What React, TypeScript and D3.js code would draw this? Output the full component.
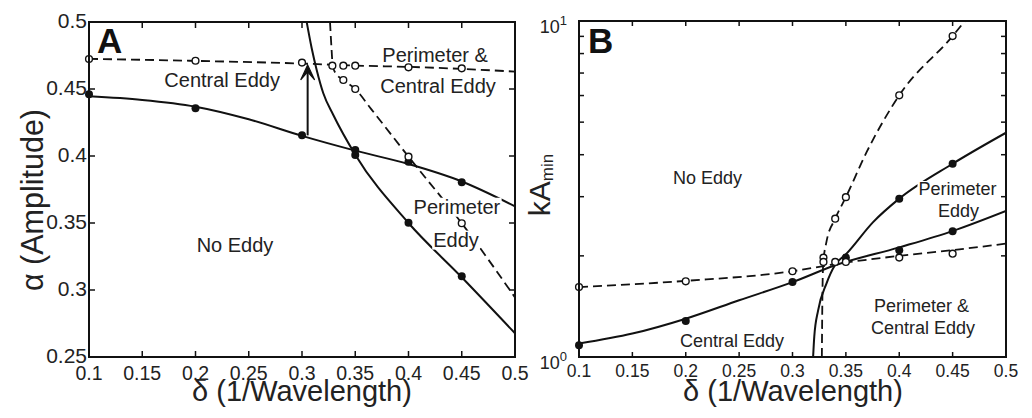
import { useRef, useEffect } from 'react';
import * as d3 from 'd3';

// shared x ticks (delta)
const deltaTicks = [0.1, 0.15, 0.2, 0.25, 0.3, 0.35, 0.4, 0.45, 0.5];
const deltaTickLabels = ['0.1', '0.15', '0.2', '0.25', '0.3', '0.35', '0.4', '0.45', '0.5'];

// panel A : alpha (amplitude)
const alphaTicks = [0.25, 0.3, 0.35, 0.4, 0.45, 0.5];
const alphaTickLabels = ['0.25', '0.3', '0.35', '0.4', '0.45', '0.5'];

const aCentralSolid: [number, number][] = [
    [0.1, 0.4445], [0.15, 0.4418], [0.2, 0.4368], [0.25, 0.4274], [0.3, 0.415],
    [0.35, 0.404], [0.4, 0.394], [0.45, 0.381], [0.5, 0.3625],
];
const aPerimeterSolid: [number, number][] = [
    [0.3044, 0.5], [0.3091, 0.4804], [0.3138, 0.4642], [0.32, 0.4468], [0.3294, 0.4306],
    [0.35, 0.401], [0.4, 0.35], [0.45, 0.3095], [0.5, 0.2677],
];
const aCentralDashed: [number, number][] = [
    [0.1, 0.4725], [0.2, 0.471], [0.3, 0.469], [0.35, 0.4675], [0.4, 0.4665], [0.45, 0.465], [0.5, 0.463],
];
const aPerimeterDashed: [number, number][] = [
    [0.3263, 0.5], [0.3279, 0.4778], [0.3288, 0.4674], [0.331, 0.4625], [0.3388, 0.4567],
    [0.35, 0.45], [0.365, 0.435], [0.4, 0.3995], [0.45, 0.3498], [0.5, 0.2945],
];
const aFilled: [number, number][] = [
    [0.1, 0.446], [0.2, 0.4356], [0.3, 0.4154], [0.35, 0.4045], [0.35, 0.4007],
    [0.4, 0.3958], [0.45, 0.3804], [0.4, 0.3502], [0.45, 0.3102],
];
const aOpen: [number, number][] = [
    [0.1, 0.4724], [0.2, 0.4711], [0.3, 0.4697], [0.3285, 0.4674], [0.3388, 0.4674],
    [0.35, 0.4674], [0.4, 0.4662], [0.45, 0.4654],
    [0.3388, 0.4567], [0.35, 0.45], [0.4, 0.3995], [0.45, 0.3498],
];
const aArrow: [number, number][] = [[0.3053, 0.4154], [0.3053, 0.468]];

// panel B : kA_min (log)
const kaMajor = [1, 10];
const kaMinor = [2, 3, 4, 5, 6, 7, 8, 9];
const kaExponents = ['0', '1'];

const bCentralSolid: [number, number][] = [
    [0.1, 1.096], [0.15, 1.174], [0.2, 1.3], [0.25, 1.475], [0.3, 1.67], [0.34, 1.875],
    [0.4, 2.12], [0.45, 2.37], [0.5, 2.72],
];
const bPerimeterSolid: [number, number][] = [
    [0.3193, 1.0], [0.3204, 1.15], [0.324, 1.377], [0.3318, 1.654], [0.3397, 1.875],
    [0.3506, 2.03], [0.3755, 2.52], [0.4, 2.96], [0.45, 3.76], [0.5, 4.65],
];
const bCentralDashed: [number, number][] = [
    [0.1, 1.615], [0.2, 1.685], [0.3, 1.8], [0.34, 1.89], [0.4, 2.0], [0.45, 2.08], [0.5, 2.175],
];
const bPerimeterDashed: [number, number][] = [
    [0.3275, 1.0], [0.328, 1.5], [0.3288, 1.9], [0.3318, 2.2], [0.34, 2.58], [0.35, 2.99],
    [0.3694, 4.07], [0.4, 6.01], [0.45, 9.02], [0.4615, 10],
];
const bFilled: [number, number][] = [
    [0.1, 1.083], [0.2, 1.28], [0.3, 1.672], [0.35, 1.976], [0.4, 2.077], [0.45, 2.366],
    [0.4, 2.96], [0.45, 3.76],
];
const bOpen: [number, number][] = [
    [0.1, 1.615], [0.2, 1.68], [0.3, 1.8], [0.329, 1.976], [0.329, 1.918], [0.34, 1.918],
    [0.35, 1.918], [0.4, 1.976], [0.45, 2.03],
    [0.34, 2.58], [0.35, 2.99], [0.4, 6.01], [0.45, 9.02],
];

const FONT = '"Liberation Sans", Arial, Helvetica, sans-serif';
const DASH = '9,5';

function App() {
    const svgRef = useRef<SVGSVGElement>(null);

    useEffect(() => {
        const svg = d3.select(svgRef.current);
        svg.selectAll('*').remove();

        const frame = (g: any, x: any, y: any, yTicks: number[], yMinor: number[], tick: number) => {
            const [x0, x1] = x.range();
            const [y0, y1] = y.range();
            deltaTicks.forEach(t => {
                g.append('line').attr('x1', x(t)).attr('x2', x(t)).attr('y1', y0).attr('y2', y0 - tick)
                    .attr('stroke', '#111').attr('stroke-width', 1.5);
                g.append('line').attr('x1', x(t)).attr('x2', x(t)).attr('y1', y1).attr('y2', y1 + tick)
                    .attr('stroke', '#111').attr('stroke-width', 1.5);
            });
            yTicks.concat(yMinor).forEach(t => {
                g.append('line').attr('x1', x0).attr('x2', x0 + tick).attr('y1', y(t)).attr('y2', y(t))
                    .attr('stroke', '#111').attr('stroke-width', 1.5);
                g.append('line').attr('x1', x1).attr('x2', x1 - tick).attr('y1', y(t)).attr('y2', y(t))
                    .attr('stroke', '#111').attr('stroke-width', 1.5);
            });
            g.append('rect').attr('x', x0).attr('y', y1).attr('width', x1 - x0).attr('height', y0 - y1)
                .attr('fill', 'none').attr('stroke', '#111').attr('stroke-width', 2);
        };

        const curves = (g: any, x: any, y: any, clipId: string, solid: [number, number][][], dashed: [number, number][][]) => {
            const [x0, x1] = x.range();
            const [y0, y1] = y.range();
            svg.append('defs').append('clipPath').attr('id', clipId)
                .append('rect').attr('x', x0).attr('y', y1).attr('width', x1 - x0).attr('height', y0 - y1);
            const line = d3.line<[number, number]>().x(d => x(d[0])).y(d => y(d[1])).curve(d3.curveMonotoneX);
            const lg = g.append('g').attr('clip-path', `url(#${clipId})`);
            solid.forEach(s => lg.append('path').attr('d', line(s)).attr('fill', 'none')
                .attr('stroke', '#111').attr('stroke-width', 2));
            dashed.forEach(s => lg.append('path').attr('d', line(s)).attr('fill', 'none')
                .attr('stroke', '#111').attr('stroke-width', 1.8).attr('stroke-dasharray', DASH));
        };

        const label = (g: any, text: string, px: number, py: number, size: number, bg = false) => {
            const t = g.append('text').attr('x', px).attr('y', py).attr('text-anchor', 'middle')
                .attr('font-family', FONT).attr('font-size', size).attr('fill', '#222').text(text);
            if (bg) {
                const b = (t.node() as SVGTextElement).getBBox();
                g.insert('rect', 'text').attr('x', b.x - 1).attr('y', b.y + 2).attr('width', b.width + 2)
                    .attr('height', b.height - 3).attr('fill', 'white');
            }
        };

        const markers = (g: any, x: any, y: any, filled: [number, number][], open: [number, number][]) => {
            g.selectAll('circle.f').data(filled).enter().append('circle')
                .attr('cx', (d: any) => x(d[0])).attr('cy', (d: any) => y(d[1])).attr('r', 4).attr('fill', '#111');
            g.selectAll('circle.o').data(open).enter().append('circle')
                .attr('cx', (d: any) => x(d[0])).attr('cy', (d: any) => y(d[1])).attr('r', 3.4)
                .attr('fill', 'white').attr('stroke', '#111').attr('stroke-width', 1.4);
        };

        // ---------- panel A ----------
        const xA = d3.scaleLinear().domain([0.1, 0.5]).range([89, 515]);
        const yA = d3.scaleLinear().domain([0.25, 0.5]).range([357, 22]);
        const gA = svg.append('g');

        curves(gA, xA, yA, 'clipA', [aCentralSolid, aPerimeterSolid], [aCentralDashed, aPerimeterDashed]);

        const lblA = gA.append('g');
        label(lblA, 'Central Eddy', xA(0.225), yA(0.4513), 20);
        label(lblA, 'Perimeter &', xA(0.425), yA(0.4701), 20);
        label(lblA, 'Central Eddy', xA(0.4277), yA(0.4468), 20);
        label(lblA, 'No Eddy', xA(0.2371), yA(0.3284), 20);
        label(lblA, 'Perimeter', xA(0.4455), yA(0.3569), 20, true);
        label(lblA, 'Eddy', xA(0.4446), yA(0.3324), 20, true);

        markers(gA, xA, yA, aFilled, aOpen);

        // arrow
        const ax = xA(aArrow[0][0]);
        const ayTip = yA(aArrow[1][1]);
        gA.append('line').attr('x1', ax).attr('x2', ax).attr('y1', yA(aArrow[0][1])).attr('y2', ayTip + 3)
            .attr('stroke', '#111').attr('stroke-width', 2);
        gA.append('path')
            .attr('d', `M${ax - 7},${ayTip + 15} L${ax},${ayTip} L${ax + 7},${ayTip + 15} L${ax},${ayTip + 7} Z`)
            .attr('fill', '#111').attr('stroke', '#111').attr('stroke-width', 1.2).attr('stroke-linejoin', 'miter');

        frame(gA, xA, yA, alphaTicks, [], 6);

        alphaTicks.forEach((t, i) => {
            gA.append('text').attr('x', 87).attr('y', yA(t) + 5.5).attr('text-anchor', 'end')
                .attr('font-family', FONT).attr('font-size', 21).attr('fill', '#222').text(alphaTickLabels[i]);
        });
        deltaTicks.forEach((t, i) => {
            gA.append('text').attr('x', xA(t)).attr('y', 380).attr('text-anchor', 'middle')
                .attr('font-family', FONT).attr('font-size', 19.5).attr('fill', '#222').text(deltaTickLabels[i]);
        });
        gA.append('text').attr('x', 302).attr('y', 401).attr('text-anchor', 'middle')
            .attr('font-family', FONT).attr('font-size', 29).attr('fill', '#222').text('δ (1/Wavelength)');
        gA.append('text').attr('transform', 'translate(43,200) rotate(-90)').attr('text-anchor', 'middle')
            .attr('font-family', FONT).attr('font-size', 30.5).attr('fill', '#222').text('α (Amplitude)');
        gA.append('text').attr('x', 97).attr('y', 53).attr('font-family', FONT).attr('font-weight', 'bold')
            .attr('font-size', 35).attr('fill', '#111').text('A');

        // ---------- panel B ----------
        const xB = d3.scaleLinear().domain([0.1, 0.5]).range([579, 1006]);
        const yB = d3.scaleLog().domain([1, 10]).range([357, 21]);
        const gB = svg.append('g');

        curves(gB, xB, yB, 'clipB', [bCentralSolid, bPerimeterSolid], [bCentralDashed, bPerimeterDashed]);

        const lblB = gB.append('g');
        label(lblB, 'No Eddy', 707.5, 184, 18);
        label(lblB, 'Perimeter', 957.5, 195, 18, true);
        label(lblB, 'Eddy', 958.5, 217, 18);
        label(lblB, 'Perimeter &', 921.5, 312, 18);
        label(lblB, 'Central Eddy', 923, 334, 18);
        label(lblB, 'Central Eddy', 732, 347, 18);

        markers(gB, xB, yB, bFilled, bOpen);

        frame(gB, xB, yB, kaMajor, kaMinor, 5);

        kaMajor.forEach((t, i) => {
            const tx = gB.append('text').attr('x', 567).attr('y', yB(t) + 12).attr('text-anchor', 'end')
                .attr('font-family', FONT).attr('font-size', 18).attr('fill', '#222');
            tx.append('tspan').text('10');
            tx.append('tspan').attr('font-size', 13).attr('dy', -8).text(kaExponents[i]);
        });
        deltaTicks.forEach((t, i) => {
            gB.append('text').attr('x', xB(t)).attr('y', 377).attr('text-anchor', 'middle')
                .attr('font-family', FONT).attr('font-size', 17.5).attr('fill', '#222').text(deltaTickLabels[i]);
        });
        gB.append('text').attr('x', 793).attr('y', 401).attr('text-anchor', 'middle')
            .attr('font-family', FONT).attr('font-size', 29).attr('fill', '#222').text('δ (1/Wavelength)');
        const yt = gB.append('text').attr('transform', 'translate(550,185) rotate(-90)').attr('text-anchor', 'middle')
            .attr('font-family', FONT).attr('font-size', 30).attr('fill', '#222');
        yt.append('tspan').text('kA');
        yt.append('tspan').attr('font-size', 17).attr('dy', 3).text('min');
        gB.append('text').attr('x', 588).attr('y', 53).attr('font-family', FONT).attr('font-weight', 'bold')
            .attr('font-size', 35).attr('fill', '#111').text('B');
    }, []);

    return (
        <svg
            ref={svgRef}
            width={1032}
            height={418}
            style={{ position: 'absolute', left: 0, top: 0, background: 'white' }}
        />
    );
}

export default App;
